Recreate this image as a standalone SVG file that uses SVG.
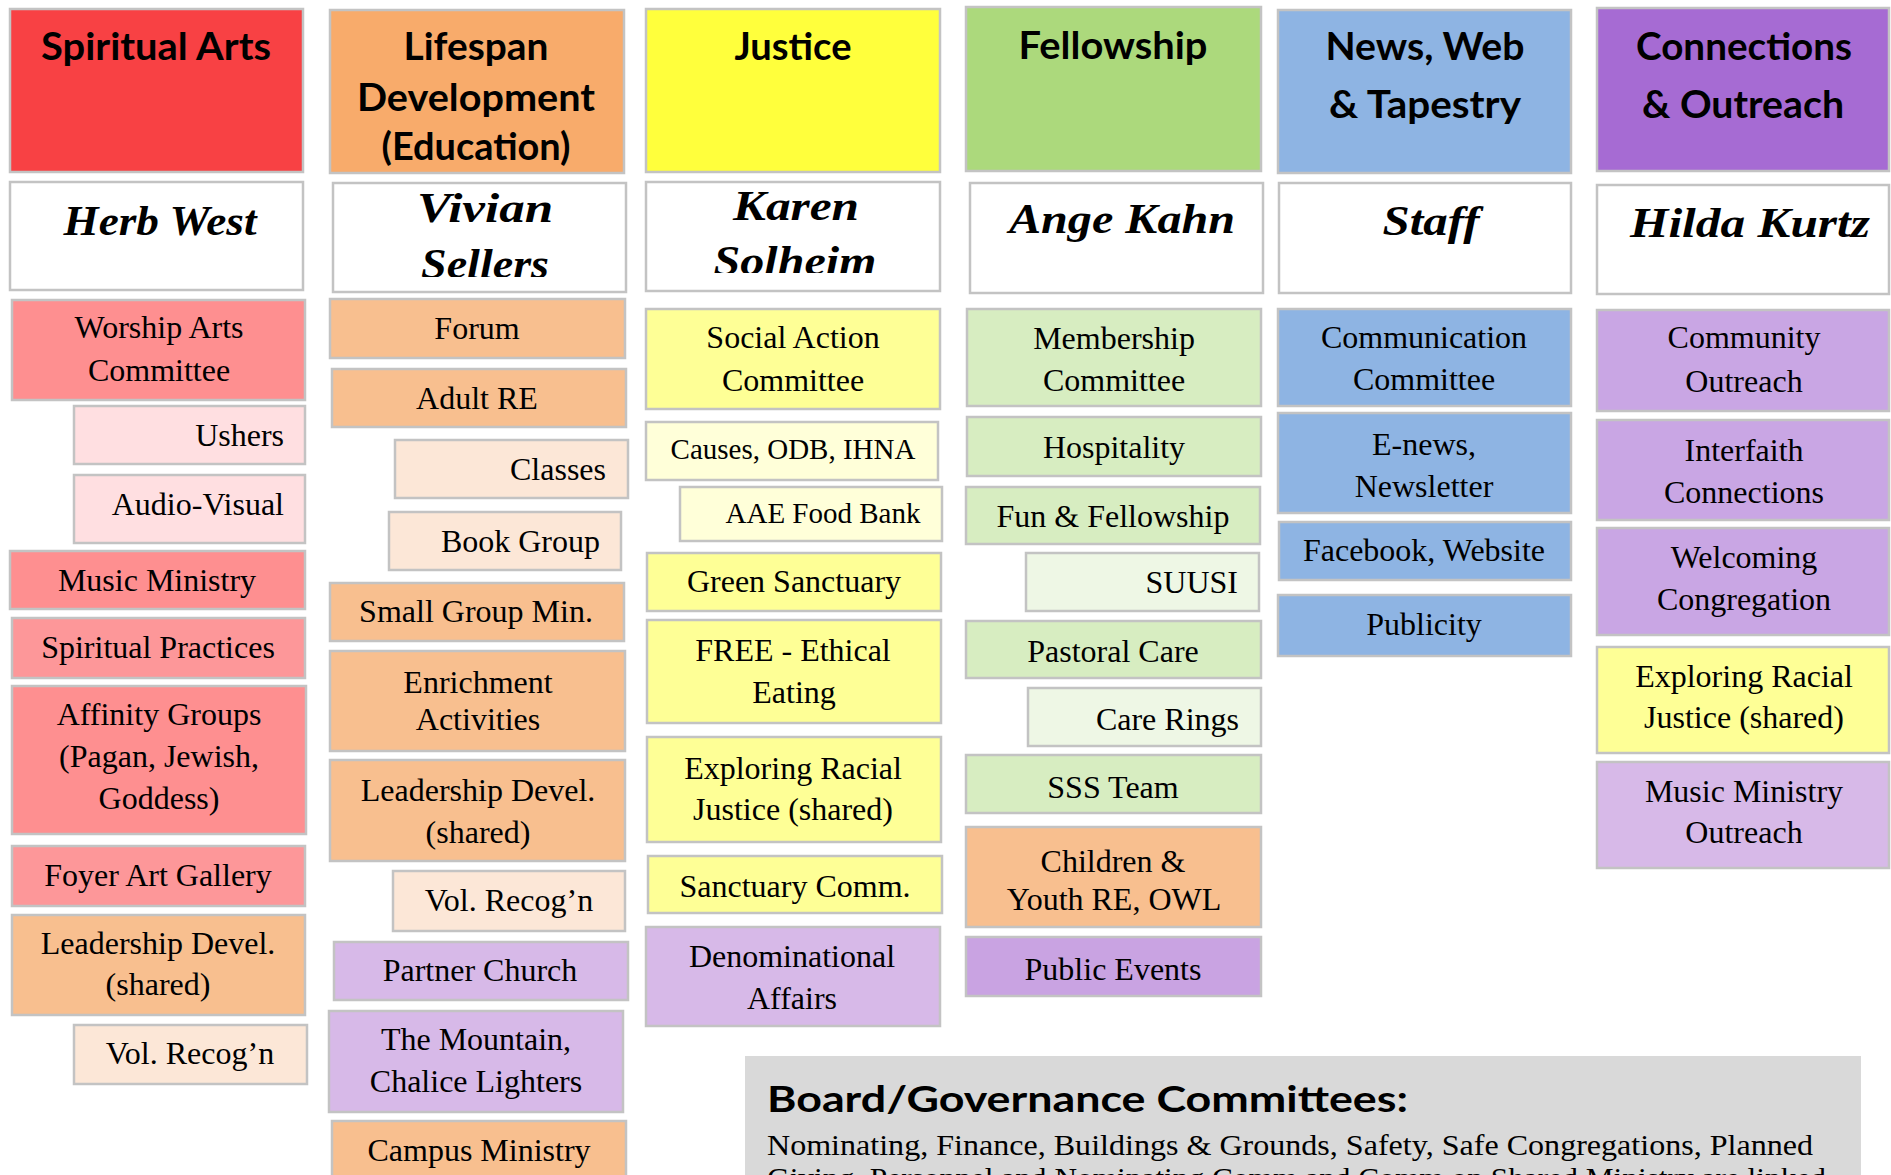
<svg xmlns="http://www.w3.org/2000/svg" width="1891" height="1175" viewBox="0 0 1891 1175">
<style>
.b{stroke:#c3c3c3;stroke-width:2.5}
.hd1{fill:#f84144}.hd2{fill:#f8ab6b}.hd3{fill:#ffff3c}.hd4{fill:#acd97c}.hd5{fill:#8eb4e3}.hd6{fill:#a66bd3}
.wh{fill:#ffffff}
.pm{fill:#fe8f90}.pm2{fill:#fd9799}.pl{fill:#ffdfe1}
.om{fill:#f8bf8f}.ol{fill:#fce7d7}
.ym{fill:#feff96}.yl{fill:#ffffd9}
.gm{fill:#d7edc1}.gl{fill:#eef7e5}
.bl{fill:#8eb4e3}
.um{fill:#c9a6e4}.ul{fill:#d7b9e8}.up{fill:#c9a3e2}
.t{font-family:"Liberation Serif","Times New Roman",serif;font-size:32px;fill:#000;text-anchor:middle}
.s{font-size:29px}
.e{text-anchor:end}
.h{font-family:Lato,"Open Sans",sans-serif;font-weight:700;font-size:38px;fill:#000;text-anchor:middle}
.n{font-family:"Liberation Serif","Times New Roman",serif;font-style:italic;font-weight:700;font-size:42px;fill:#000;text-anchor:middle}
</style>
<defs>
<clipPath id="cv"><rect x="333" y="183" width="293" height="94"/></clipPath>
<clipPath id="ck"><rect x="646" y="182" width="294" height="91"/></clipPath>
</defs>
<rect width="1891" height="1175" fill="#ffffff"/>

<!-- Headers -->
<g id="h-spiritual"><rect class="b hd1" x="10" y="9" width="293" height="163"/><text class="h" x="156" y="60" textLength="230" lengthAdjust="spacingAndGlyphs">Spiritual Arts</text></g>
<g id="h-lifespan"><rect class="b hd2" x="330" y="10" width="294" height="163"/>
<text class="h" x="476" y="60" textLength="145" lengthAdjust="spacingAndGlyphs">Lifespan</text>
<text class="h" x="476" y="111" textLength="238" lengthAdjust="spacingAndGlyphs">Development</text>
<text class="h" x="476" y="160" textLength="189" lengthAdjust="spacingAndGlyphs">(Education)</text></g>
<g id="h-justice"><rect class="b hd3" x="646" y="9" width="294" height="163"/><text class="h" x="793" y="60" textLength="117" lengthAdjust="spacingAndGlyphs">Justice</text></g>
<g id="h-fellowship"><rect class="b hd4" x="966" y="7" width="295" height="164"/><text class="h" x="1113" y="59" textLength="189" lengthAdjust="spacingAndGlyphs">Fellowship</text></g>
<g id="h-news"><rect class="b hd5" x="1278" y="10" width="293" height="163"/>
<text class="h" x="1425" y="60" textLength="199" lengthAdjust="spacingAndGlyphs">News, Web</text>
<text class="h" x="1425" y="118" textLength="192" lengthAdjust="spacingAndGlyphs">&amp; Tapestry</text></g>
<g id="h-connections"><rect class="b hd6" x="1597" y="8" width="292" height="163"/>
<text class="h" x="1744" y="60" textLength="216" lengthAdjust="spacingAndGlyphs">Connections</text>
<text class="h" x="1743" y="118" textLength="202" lengthAdjust="spacingAndGlyphs">&amp; Outreach</text></g>

<!-- Leaders -->
<g id="n-herb"><rect class="b wh" x="10" y="182" width="293" height="108"/><text class="n" x="160" y="235" textLength="193" lengthAdjust="spacingAndGlyphs">Herb West</text></g>
<g id="n-vivian"><rect class="b wh" x="333" y="183" width="293" height="109"/>
<text class="n" x="485" y="222" textLength="136" lengthAdjust="spacingAndGlyphs">Vivian</text>
<text class="n" x="485" y="278" textLength="128" lengthAdjust="spacingAndGlyphs" clip-path="url(#cv)">Sellers</text></g>
<g id="n-karen"><rect class="b wh" x="646" y="182" width="294" height="109"/>
<text class="n" x="796" y="220" textLength="126" lengthAdjust="spacingAndGlyphs">Karen</text>
<text class="n" x="795" y="275" textLength="163" lengthAdjust="spacingAndGlyphs" clip-path="url(#ck)">Solheim</text></g>
<g id="n-ange"><rect class="b wh" x="970" y="183" width="293" height="110"/><text class="n" x="1122" y="233" textLength="226" lengthAdjust="spacingAndGlyphs">Ange Kahn</text></g>
<g id="n-staff"><rect class="b wh" x="1279" y="183" width="292" height="110"/><text class="n" x="1431" y="235" textLength="97" lengthAdjust="spacingAndGlyphs">Staff</text></g>
<g id="n-hilda"><rect class="b wh" x="1597" y="185" width="292" height="109"/><text class="n" x="1750" y="237" textLength="240" lengthAdjust="spacingAndGlyphs">Hilda Kurtz</text></g>

<!-- Column 1 -->
<g id="c1-worship"><rect class="b pm" x="12" y="300" width="293" height="100"/><text class="t" x="159" y="338">Worship Arts</text><text class="t" x="159" y="381">Committee</text></g>
<g id="c1-ushers"><rect class="b pl" x="74" y="406" width="231" height="58"/><text class="t e" x="284" y="446">Ushers</text></g>
<g id="c1-av"><rect class="b pl" x="74" y="475" width="231" height="68"/><text class="t e" x="284" y="515">Audio-Visual</text></g>
<g id="c1-music"><rect class="b pm" x="10" y="551" width="295" height="58"/><text class="t" x="157" y="591">Music Ministry</text></g>
<g id="c1-practices"><rect class="b pm2" x="12" y="618" width="293" height="60"/><text class="t" x="158" y="658">Spiritual Practices</text></g>
<g id="c1-affinity"><rect class="b pm" x="12" y="686" width="294" height="148"/><text class="t" x="159" y="725">Affinity Groups</text><text class="t" x="159" y="767">(Pagan, Jewish,</text><text class="t" x="159" y="809">Goddess)</text></g>
<g id="c1-foyer"><rect class="b pm2" x="12" y="846" width="293" height="60"/><text class="t" x="158" y="886">Foyer Art Gallery</text></g>
<g id="c1-leader"><rect class="b om" x="12" y="915" width="293" height="100"/><text class="t" x="158" y="954">Leadership Devel.</text><text class="t" x="158" y="995">(shared)</text></g>
<g id="c1-vol"><rect class="b ol" x="74" y="1025" width="233" height="59"/><text class="t" x="190" y="1064">Vol. Recog’n</text></g>

<!-- Column 2 -->
<g id="c2-forum"><rect class="b om" x="330" y="299" width="295" height="59"/><text class="t" x="477" y="339">Forum</text></g>
<g id="c2-adult"><rect class="b om" x="332" y="369" width="294" height="58"/><text class="t" x="477" y="409">Adult RE</text></g>
<g id="c2-classes"><rect class="b ol" x="395" y="440" width="233" height="58"/><text class="t e" x="606" y="480">Classes</text></g>
<g id="c2-book"><rect class="b ol" x="389" y="512" width="232" height="58"/><text class="t e" x="600" y="552">Book Group</text></g>
<g id="c2-small"><rect class="b om" x="330" y="583" width="294" height="58"/><text class="t" x="476" y="622">Small Group Min.</text></g>
<g id="c2-enrich"><rect class="b om" x="330" y="651" width="295" height="100"/><text class="t" x="478" y="693">Enrichment</text><text class="t" x="478" y="730">Activities</text></g>
<g id="c2-leader"><rect class="b om" x="330" y="760" width="295" height="101"/><text class="t" x="478" y="801">Leadership Devel.</text><text class="t" x="478" y="843">(shared)</text></g>
<g id="c2-vol"><rect class="b ol" x="393" y="871" width="232" height="60"/><text class="t" x="509" y="911">Vol. Recog’n</text></g>
<g id="c2-partner"><rect class="b ul" x="334" y="942" width="294" height="58"/><text class="t" x="480" y="981">Partner Church</text></g>
<g id="c2-mountain"><rect class="b ul" x="329" y="1011" width="294" height="101"/><text class="t" x="476" y="1050">The Mountain,</text><text class="t" x="476" y="1092">Chalice Lighters</text></g>
<g id="c2-campus"><rect class="b om" x="332" y="1121" width="294" height="70"/><text class="t" x="479" y="1161">Campus Ministry</text></g>

<!-- Column 3 -->
<g id="c3-social"><rect class="b ym" x="646" y="309" width="294" height="100"/><text class="t" x="793" y="348">Social Action</text><text class="t" x="793" y="391">Committee</text></g>
<g id="c3-causes"><rect class="b yl" x="646" y="422" width="292" height="58"/><text class="t s" x="793" y="459">Causes, ODB, IHNA</text></g>
<g id="c3-aae"><rect class="b yl" x="680" y="487" width="262" height="54"/><text class="t s" x="823" y="523">AAE Food Bank</text></g>
<g id="c3-green"><rect class="b ym" x="647" y="553" width="294" height="58"/><text class="t" x="794" y="592">Green Sanctuary</text></g>
<g id="c3-free"><rect class="b ym" x="647" y="620" width="294" height="103"/><text class="t" x="793" y="661">FREE - Ethical</text><text class="t" x="794" y="703">Eating</text></g>
<g id="c3-racial"><rect class="b ym" x="647" y="737" width="294" height="105"/><text class="t" x="793" y="779">Exploring Racial</text><text class="t" x="793" y="820">Justice (shared)</text></g>
<g id="c3-sanct"><rect class="b ym" x="648" y="856" width="294" height="57"/><text class="t" x="795" y="897">Sanctuary Comm.</text></g>
<g id="c3-denom"><rect class="b ul" x="646" y="927" width="294" height="99"/><text class="t" x="792" y="967">Denominational</text><text class="t" x="792" y="1009">Affairs</text></g>

<!-- Column 4 -->
<g id="c4-member"><rect class="b gm" x="967" y="309" width="294" height="97"/><text class="t" x="1114" y="349">Membership</text><text class="t" x="1114" y="391">Committee</text></g>
<g id="c4-hosp"><rect class="b gm" x="967" y="417" width="294" height="59"/><text class="t" x="1114" y="458">Hospitality</text></g>
<g id="c4-fun"><rect class="b gm" x="966" y="487" width="294" height="57"/><text class="t" x="1113" y="527">Fun &amp; Fellowship</text></g>
<g id="c4-suusi"><rect class="b gl" x="1026" y="553" width="233" height="58"/><text class="t e" x="1238" y="593">SUUSI</text></g>
<g id="c4-pastoral"><rect class="b gm" x="966" y="621" width="295" height="57"/><text class="t" x="1113" y="662">Pastoral Care</text></g>
<g id="c4-care"><rect class="b gl" x="1028" y="688" width="233" height="58"/><text class="t e" x="1239" y="730">Care Rings</text></g>
<g id="c4-sss"><rect class="b gm" x="966" y="755" width="295" height="58"/><text class="t" x="1113" y="798">SSS Team</text></g>
<g id="c4-children"><rect class="b om" x="966" y="827" width="295" height="100"/><text class="t" x="1113" y="872">Children &amp;</text><text class="t" x="1114" y="910">Youth RE, OWL</text></g>
<g id="c4-public"><rect class="b up" x="966" y="937" width="295" height="59"/><text class="t" x="1113" y="980">Public Events</text></g>

<!-- Column 5 -->
<g id="c5-comm"><rect class="b bl" x="1278" y="309" width="293" height="97"/><text class="t" x="1424" y="348">Communication</text><text class="t" x="1424" y="390">Committee</text></g>
<g id="c5-enews"><rect class="b bl" x="1278" y="413" width="293" height="100"/><text class="t" x="1424" y="455">E-news,</text><text class="t" x="1424" y="497">Newsletter</text></g>
<g id="c5-fb"><rect class="b bl" x="1279" y="522" width="292" height="58"/><text class="t" x="1424" y="561">Facebook, Website</text></g>
<g id="c5-pub"><rect class="b bl" x="1278" y="595" width="293" height="61"/><text class="t" x="1424" y="635">Publicity</text></g>

<!-- Column 6 -->
<g id="c6-community"><rect class="b um" x="1597" y="310" width="292" height="101"/><text class="t" x="1744" y="348">Community</text><text class="t" x="1744" y="392">Outreach</text></g>
<g id="c6-interfaith"><rect class="b um" x="1597" y="420" width="292" height="100"/><text class="t" x="1744" y="461">Interfaith</text><text class="t" x="1744" y="503">Connections</text></g>
<g id="c6-welcoming"><rect class="b um" x="1597" y="528" width="292" height="107"/><text class="t" x="1744" y="568">Welcoming</text><text class="t" x="1744" y="610">Congregation</text></g>
<g id="c6-racial"><rect class="b ym" x="1597" y="647" width="292" height="106"/><text class="t" x="1744" y="687">Exploring Racial</text><text class="t" x="1744" y="728">Justice (shared)</text></g>
<g id="c6-music"><rect class="b ul" x="1597" y="762" width="292" height="106"/><text class="t" x="1744" y="802">Music Ministry</text><text class="t" x="1744" y="843">Outreach</text></g>

<g id="connectors"></g>

<!-- Board -->
<g id="board"><rect x="745" y="1056" width="1116" height="130" fill="#d9d9d9"/>
<text x="767" y="1112" font-family="Lato, 'Open Sans', sans-serif" font-weight="700" font-size="36" textLength="641" lengthAdjust="spacingAndGlyphs">Board/Governance Committees:</text>
<text x="767" y="1155" font-family="'Liberation Serif', serif" font-size="29" textLength="1046" lengthAdjust="spacingAndGlyphs">Nominating, Finance, Buildings &amp; Grounds, Safety, Safe Congregations, Planned</text>
<text x="767" y="1188" font-family="'Liberation Serif', serif" font-size="29" textLength="1059" lengthAdjust="spacingAndGlyphs">Giving, Personnel and Nominating Comm and Comm on Shared Ministry are linked</text>
</g>
</svg>
